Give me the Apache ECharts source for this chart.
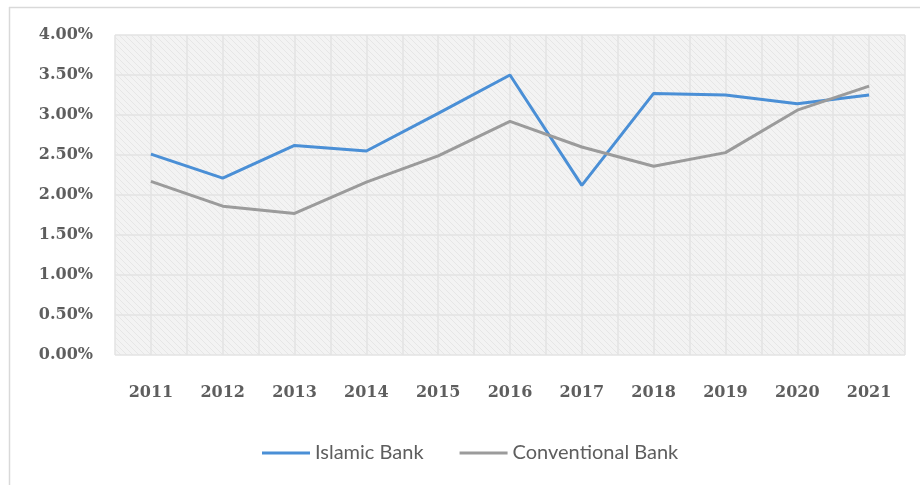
<!DOCTYPE html>
<html>
<head>
<meta charset="utf-8">
<script src="https://cdn.jsdelivr.net/npm/echarts@6/dist/echarts.min.js"></script>
<style>
  html, body { margin: 0; padding: 0; background: #fff; }
  #chart { width: 920px; height: 485px; }
</style>
</head>
<body>
<div id="chart"></div>
<script>
// data
var years = ['2011', '2012', '2013', '2014', '2015', '2016', '2017', '2018', '2019', '2020', '2021'];
var islamicBank = [2.51, 2.21, 2.62, 2.55, 3.02, 3.50, 2.12, 3.27, 3.25, 3.14, 3.25];
var conventionalBank = [2.17, 1.86, 1.77, 2.16, 2.49, 2.92, 2.60, 2.36, 2.53, 3.06, 3.36];

var chart = echarts.init(document.getElementById('chart'));

// hatched grey plot background
function makeHatch() {
  var c = document.createElement('canvas');
  c.width = 6;
  c.height = 6;
  var ctx = c.getContext('2d');
  ctx.fillStyle = '#f3f3f3';
  ctx.fillRect(0, 0, 6, 6);
  ctx.strokeStyle = '#e6e6e6';
  ctx.lineWidth = 1;
  ctx.beginPath();
  ctx.moveTo(0, 0); ctx.lineTo(6, 6);
  ctx.moveTo(-3, 3); ctx.lineTo(3, 9);
  ctx.moveTo(3, -3); ctx.lineTo(9, 3);
  ctx.stroke();
  return c;
}

var labelFont = {
  color: '#5e5e5e',
  fontSize: 16,
  fontFamily: 'DejaVu Serif',
  fontWeight: 'bold'
};

var option = {
  backgroundColor: '#fff',
  animation: false,
  graphic: [
    { type: 'line', shape: { x1: 9, y1: 7.5, x2: 920, y2: 7.5 }, style: { stroke: '#d9d9d9', lineWidth: 1.5 } },
    { type: 'line', shape: { x1: 9.5, y1: 7, x2: 9.5, y2: 485 }, style: { stroke: '#d9d9d9', lineWidth: 1.5 } }
  ],
  grid: {
    left: 115,
    right: 15,
    top: 35,
    bottom: 130,
    show: true,
    borderWidth: 0,
    backgroundColor: { image: makeHatch(), repeat: 'repeat' }
  },
  legend: {
    bottom: 17,
    left: 257,
    itemWidth: 48,
    itemHeight: 3,
    itemGap: 36,
    icon: 'rect',
    textStyle: {
      color: '#5e5e5e',
      fontSize: 20,
      fontFamily: 'Lato'
    },
    data: ['Islamic Bank', 'Conventional Bank']
  },
  xAxis: [
    {
      type: 'category',
      data: years,
      boundaryGap: true,
      axisLine: { show: false },
      axisTick: { show: false },
      axisLabel: Object.assign({ margin: 30 }, labelFont),
      splitLine: { show: false }
    },
    {
      // hidden helper axis for the half-band vertical grid lines
      type: 'value',
      position: 'bottom',
      min: 0,
      max: 22,
      interval: 1,
      axisLine: { show: false },
      axisTick: { show: false },
      axisLabel: { show: false },
      splitLine: { show: true, lineStyle: { color: '#e3e3e3', width: 1.5 } }
    }
  ],
  yAxis: {
    type: 'value',
    min: 0,
    max: 4,
    interval: 0.5,
    axisLine: { show: false },
    axisTick: { show: false },
    axisLabel: Object.assign({
      margin: 22,
      formatter: function (v) { return v.toFixed(2) + '%'; }
    }, labelFont),
    splitLine: { lineStyle: { color: '#e3e3e3', width: 1.5 } }
  },
  series: [
    {
      name: 'Islamic Bank',
      type: 'line',
      xAxisIndex: 0,
      data: islamicBank,
      showSymbol: false,
      symbol: 'none',
      itemStyle: { color: '#4a8fd6' },
      lineStyle: { color: '#4a8fd6', width: 3 }
    },
    {
      name: 'Conventional Bank',
      type: 'line',
      xAxisIndex: 0,
      data: conventionalBank,
      showSymbol: false,
      symbol: 'none',
      itemStyle: { color: '#9b9b9b' },
      lineStyle: { color: '#9b9b9b', width: 3 }
    }
  ]
};

chart.setOption(option);
</script>
</body>
</html>
